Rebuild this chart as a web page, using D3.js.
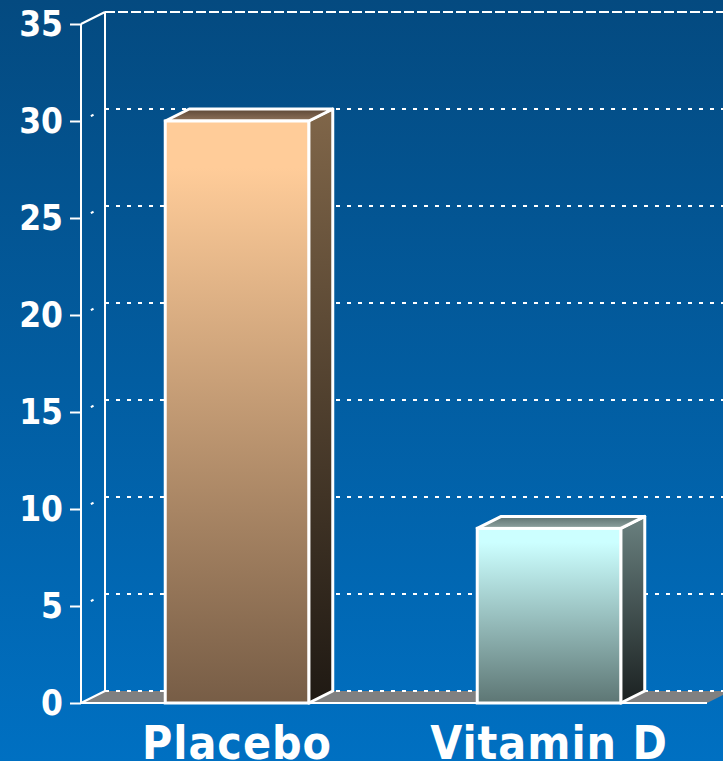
<!DOCTYPE html>
<html>
<head>
<meta charset="utf-8">
<script src="https://cdn.jsdelivr.net/npm/d3@7"></script>
<style>
  html, body { margin: 0; padding: 0; background: #0070c0; }
  svg { display: block; }
</style>
</head>
<body>
<div id="chart"></div>
<script>
// Data
var categories = ['Placebo', 'Vitamin D'];
var values = [30, 9];
var tickValues = [0, 5, 10, 15, 20, 25, 30, 35];

// Bar colours (front, side, top)
var frontColors = [['#ffcc99', '#775d46'], ['#ccffff', '#5d7674']];
var sideColors = [['#806649', '#1f1913'], ['#6a8180', '#1b2121']];
var topColors = [['#5c4736', '#8e725a'], ['#5d7270', '#8ea3a1']];

var width = 723;
var height = 761;
var depthX = 24;
var depthY = -12;

var svg = d3.select('#chart')
  .append('svg')
  .attr('width', width)
  .attr('height', height);

var defs = svg.append('defs');

var bg = defs.append('linearGradient')
  .attr('id', 'bg')
  .attr('x1', 0).attr('y1', 0).attr('x2', 0).attr('y2', 1);
bg.append('stop').attr('offset', 0).attr('stop-color', '#044a80');
bg.append('stop').attr('offset', 1).attr('stop-color', '#0070c2');

function vGrad(id, c, hold) {
  var g = defs.append('linearGradient')
    .attr('id', id)
    .attr('x1', 0).attr('y1', 0).attr('x2', 0).attr('y2', 1);
  g.append('stop').attr('offset', 0).attr('stop-color', c[0]);
  if (hold) g.append('stop').attr('offset', hold).attr('stop-color', c[0]);
  g.append('stop').attr('offset', 1).attr('stop-color', c[1]);
}

categories.forEach(function(d, i) {
  vGrad('front' + i, frontColors[i], 0.08);
  vGrad('side' + i, sideColors[i]);
  vGrad('top' + i, topColors[i]);
});

svg.append('rect')
  .attr('width', width)
  .attr('height', height)
  .attr('fill', 'url(#bg)');

// Scales
var y = d3.scaleLinear()
  .domain([0, 35])
  .range([703, 24]);

var x = d3.scaleBand()
  .domain(categories)
  .range([81, 705])
  .paddingInner(0.54)
  .paddingOuter(0.27);

var x0 = x.range()[0];
var x1 = x.range()[1] + 2;

// Back wall gridlines
svg.append('g')
  .selectAll('line')
  .data(tickValues.filter(function(d) { return d > 0 && d < 35; }))
  .enter()
  .append('line')
  .attr('x1', x0 + depthX)
  .attr('x2', x1 + depthX)
  .attr('y1', function(d) { return y(d) + depthY; })
  .attr('y2', function(d) { return y(d) + depthY; })
  .attr('stroke', '#fff')
  .attr('stroke-width', 2)
  .attr('stroke-dasharray', '4,7');

// top of back wall
svg.append('line')
  .attr('x1', x0 + depthX).attr('x2', x1 + depthX)
  .attr('y1', y(35) + depthY).attr('y2', y(35) + depthY)
  .attr('stroke', '#fff')
  .attr('stroke-width', 2)
  .attr('stroke-dasharray', '10,3');

// Floor
svg.append('path')
  .attr('d', 'M' + x0 + ',' + y(0) + 'L' + x1 + ',' + y(0) +
    'L' + (x1 + depthX) + ',' + (y(0) + depthY) +
    'L' + (x0 + depthX) + ',' + (y(0) + depthY) + 'Z')
  .attr('fill', '#808080');

svg.append('line')
  .attr('x1', x0 + depthX).attr('x2', x1 + depthX)
  .attr('y1', y(0) + depthY).attr('y2', y(0) + depthY)
  .attr('stroke', '#fff')
  .attr('stroke-width', 2)
  .attr('stroke-dasharray', '4,7');

svg.append('line')
  .attr('x1', x0).attr('x2', x1)
  .attr('y1', y(0)).attr('y2', y(0))
  .attr('stroke', '#fff')
  .attr('stroke-width', 2);

// Side wall
svg.append('line')
  .attr('x1', x0 + depthX).attr('x2', x0 + depthX)
  .attr('y1', y(35) + depthY).attr('y2', y(0) + depthY)
  .attr('stroke', '#fff')
  .attr('stroke-width', 2);

svg.append('g')
  .selectAll('line')
  .data(tickValues)
  .enter()
  .append('line')
  .attr('x1', x0)
  .attr('y1', function(d) { return y(d); })
  .attr('x2', x0 + depthX)
  .attr('y2', function(d) { return y(d) + depthY; })
  .attr('stroke', '#fff')
  .attr('stroke-width', 2)
  .attr('stroke-dasharray', function(d) { return (d === 0 || d === 35) ? null : '0,11,3,40'; });

// Front axis with ticks
var leftAxis = d3.axisLeft(y)
  .tickValues(tickValues)
  .tickSize(11)
  .tickPadding(7);

var axisG = svg.append('g')
  .attr('transform', 'translate(' + x0 + ',0)')
  .call(leftAxis);

axisG.select('.domain')
  .attr('stroke', '#fff')
  .attr('stroke-width', 2)
  .attr('d', 'M0,' + y(35) + 'V' + y(0));
axisG.selectAll('.tick line')
  .attr('stroke', '#fff')
  .attr('stroke-width', 2);
axisG.selectAll('.tick text')
  .attr('fill', '#fff')
  .attr('font-family', '"DejaVu Sans Condensed", "DejaVu Sans", sans-serif')
  .attr('font-weight', 'bold')
  .attr('font-size', 35);

// Bars
var bars = svg.selectAll('g.bar')
  .data(values)
  .enter()
  .append('g')
  .attr('class', 'bar');

bars.append('path')
  .attr('d', function(d, i) {
    var bx = x(categories[i]) + x.bandwidth();
    return 'M' + bx + ',' + y(d) + 'L' + (bx + depthX) + ',' + (y(d) + depthY) +
      'L' + (bx + depthX) + ',' + (y(0) + depthY) + 'L' + bx + ',' + y(0) + 'Z';
  })
  .attr('fill', function(d, i) { return 'url(#side' + i + ')'; })
  .attr('stroke', '#fff')
  .attr('stroke-width', 3)
  .attr('stroke-linejoin', 'round');

bars.append('path')
  .attr('d', function(d, i) {
    var bx = x(categories[i]);
    var bw = x.bandwidth();
    return 'M' + bx + ',' + y(d) + 'L' + (bx + depthX) + ',' + (y(d) + depthY) +
      'L' + (bx + bw + depthX) + ',' + (y(d) + depthY) + 'L' + (bx + bw) + ',' + y(d) + 'Z';
  })
  .attr('fill', function(d, i) { return 'url(#top' + i + ')'; })
  .attr('stroke', '#fff')
  .attr('stroke-width', 3)
  .attr('stroke-linejoin', 'round');

bars.append('rect')
  .attr('x', function(d, i) { return x(categories[i]); })
  .attr('y', function(d) { return y(d); })
  .attr('width', x.bandwidth())
  .attr('height', function(d) { return y(0) - y(d); })
  .attr('fill', function(d, i) { return 'url(#front' + i + ')'; })
  .attr('stroke', '#fff')
  .attr('stroke-width', 3);

// Category labels
svg.append('g')
  .selectAll('text')
  .data(categories)
  .enter()
  .append('text')
  .attr('x', function(d) { return x(d) + x.bandwidth() / 2; })
  .attr('y', 759)
  .attr('text-anchor', 'middle')
  .attr('fill', '#fff')
  .attr('font-family', '"DejaVu Sans Condensed", "DejaVu Sans", sans-serif')
  .attr('font-weight', 'bold')
  .attr('font-size', 46)
  .attr('letter-spacing', 1)
  .text(function(d) { return d; });
</script>
</body>
</html>
